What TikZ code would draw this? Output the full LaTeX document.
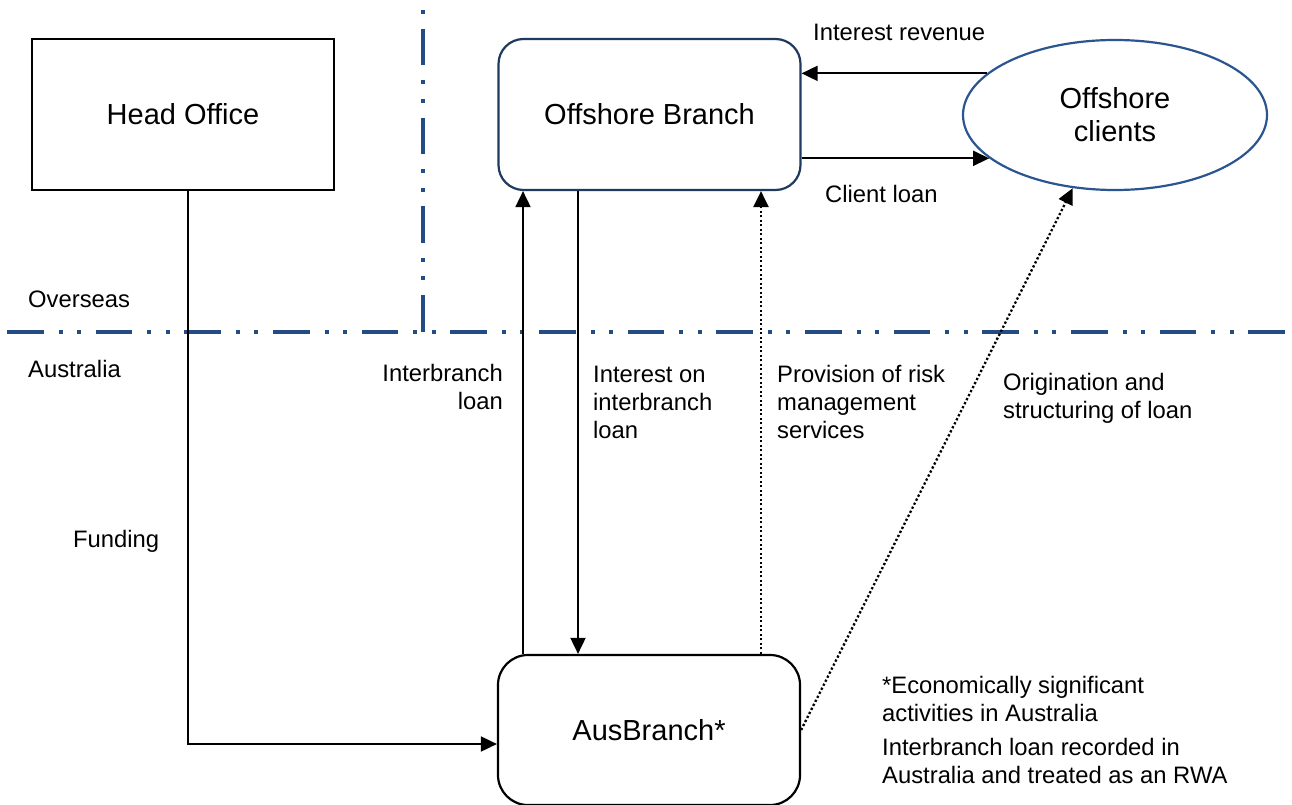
\documentclass[tikz,border=0pt]{standalone}
\usepackage{fontspec}
\setmainfont{Liberation Sans}
\usetikzlibrary{arrows.meta,shapes.geometric,calc}
\definecolor{divblue}{HTML}{234C85}
\definecolor{boxnavy}{HTML}{1F3A5F}
\definecolor{ellblue}{HTML}{2B5591}
\begin{document}
\begin{tikzpicture}[x=1pt,y=-1pt,
  boxtext/.style={font=\fontsize{29}{33}\selectfont, inner sep=0pt},
  lbl/.style={font=\fontsize{23.8}{28}\selectfont, inner sep=0pt},
  frame/.style={line width=2.2pt, minimum width=302pt, minimum height=151pt, boxtext},
  arr/.style={line width=1.8pt, -{Triangle[length=16pt,width=15pt]}},
  dotarr/.style={arr, line width=2.3pt, dash pattern=on 2.3pt off 2.2pt},
  divider/.style={divblue, line width=4pt,
    dash pattern=on 36.5pt off 15pt on 4pt off 14.6pt on 4pt off 14.57pt}]
\useasboundingbox (0,0) rectangle (1292,805);
\fill[white] (0,0) rectangle (1292,805);

% overseas / Australia dividers
\draw[divider] (7,332) -- (1285,332);
\draw[divider, dash phase=59.67pt] (423,0) -- (423,332);

% entities
\node[frame, draw] (ho) at (183,114.5) {Head Office};
\node[frame, draw=boxnavy, rounded corners=25pt] (ob) at (649.5,114.5) {Offshore Branch};
\node[ellipse, draw=ellblue, line width=2.2pt, minimum width=304pt, minimum height=150pt,
  boxtext, align=center] (oc) at (1115,115) {Offshore\\clients};
\node[frame, draw, minimum height=150pt, rounded corners=30pt] (aus) at (649,730) {AusBranch*};

% flows
\draw[arr] (oc.162.8) -- (ob.east |- oc.162.8);
\draw[arr] (ob.east |- oc.199.6) -- (oc.199.6);
\draw[arr] (ho.south -| 188,0) |- ($(aus.west)+(0,14)$);
\draw[arr] (aus.north -| 523,0) -- (ob.south -| 523,0);
\draw[arr] (ob.south -| 578,0) -- (aus.north -| 578,0);
\draw[dotarr] (aus.north -| 761,0) -- (ob.south -| 761,0);
\draw[dotarr] (aus.east) -- (oc.240);

% labels (base = baseline of the last line)
\node[lbl, anchor=base west] (lrev) at (813,41) {Interest revenue};
\node[lbl, anchor=base west] (lcl) at (825,203) {Client loan};
\node[lbl, anchor=base west] (lover) at (28,307) {Overseas};
\node[lbl, anchor=base west] (laus) at (28,377) {Australia};
\node[lbl, anchor=base east, align=right] (libl) at (503,409) {Interbranch\\loan};
\node[lbl, anchor=base west, align=left] (lint) at (593,438) {Interest on\\interbranch\\loan};
\node[lbl, anchor=base west, align=left] (lrisk) at (777,438) {Provision of risk\\management\\services};
\node[lbl, anchor=base west, align=left] (lorig) at (1003,418) {Origination and\\structuring of loan};
\node[lbl, anchor=base west] (lfund) at (73,547) {Funding};
\node[lbl, anchor=base west, align=left] (lecon) at (882,721) {*Economically significant\\activities in Australia};
\node[lbl, anchor=base west, align=left] (lrwa) at (882,783) {Interbranch loan recorded in\\Australia and treated as an RWA};
\end{tikzpicture}
\end{document}
